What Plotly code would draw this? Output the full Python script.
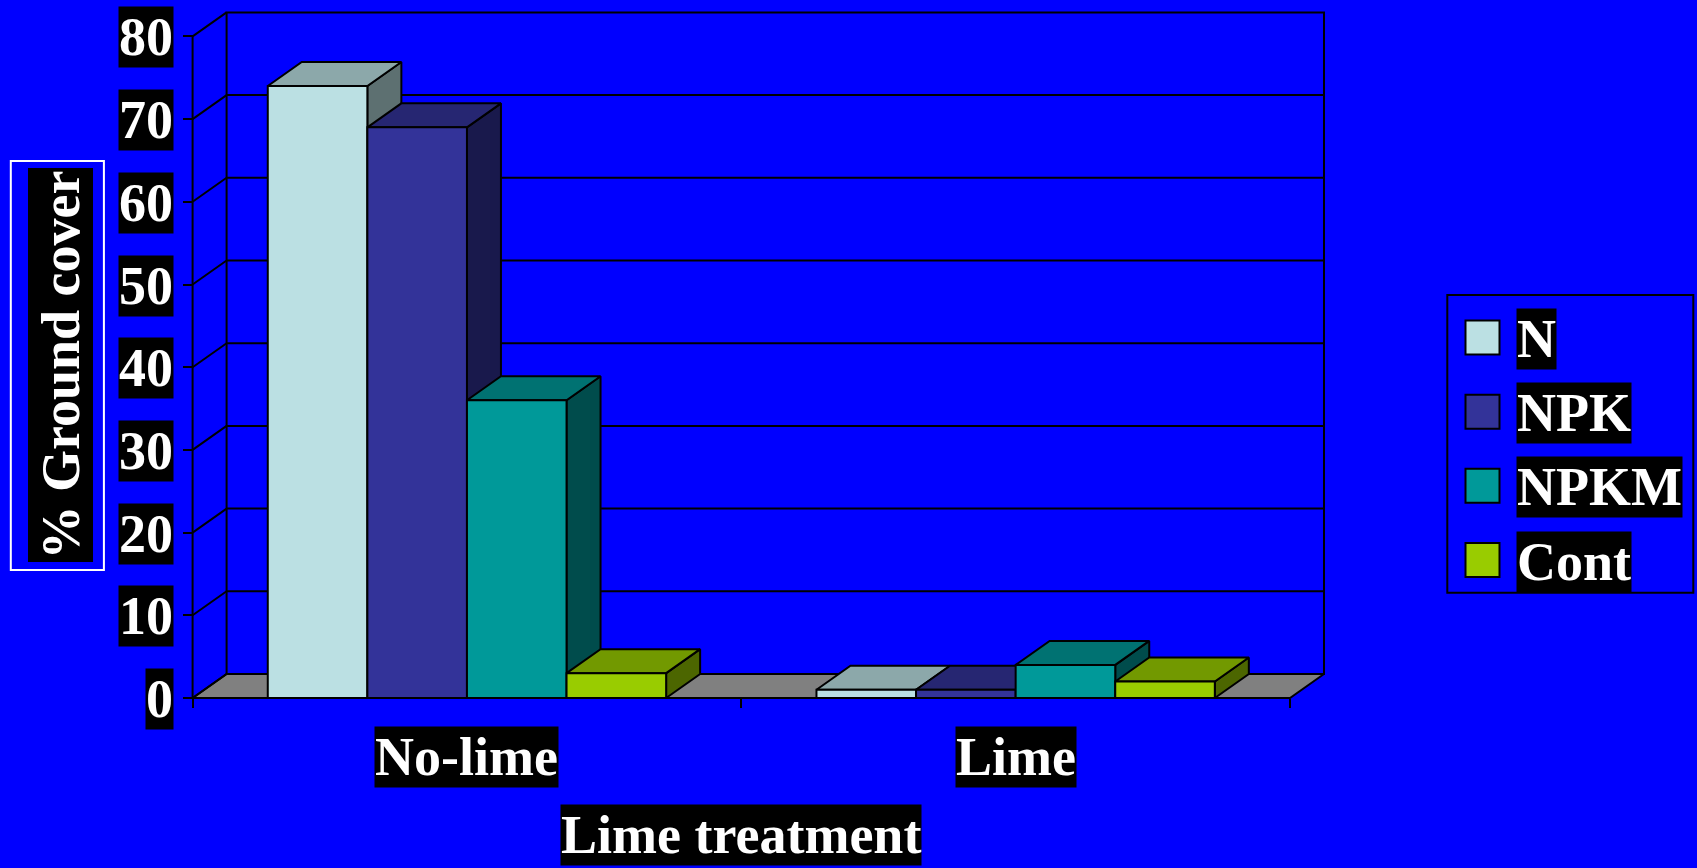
import plotly.graph_objects as go

# ---- data -------------------------------------------------------------
categories = ["No-lime", "Lime"]
series_names = ["N", "NPK", "NPKM", "Cont"]
n_values = [74, 1]
npk_values = [69, 1]
npkm_values = [36, 4]
cont_values = [3, 2]
y_ticks = [0, 10, 20, 30, 40, 50, 60, 70, 80]
y_title = "% Ground cover"
x_title = "Lime treatment"

series_values = [n_values, npk_values, npkm_values, cont_values]
front_colors = ["#BBE0E3", "#333399", "#009999", "#99CC00"]


def shade(hex_color, k):
    r, g, b = (int(hex_color[i:i + 2], 16) for i in (1, 3, 5))
    return "#%02X%02X%02X" % (int(r * k), int(g * k), int(b * k))


top_colors = [shade(c, 0.75) for c in front_colors]
side_colors = [shade(c, 0.5) for c in front_colors]

# ---- page / projection geometry ----------------------------------------
W, H = 1697, 868
AXIS_PX = 192.6      # pixel column of the front value axis
CAT_PX = 548.7       # pixel width of one category
ZERO_PX = 698.0      # pixel row of value 0 on the front plane
UNIT_PX = 8.27       # pixels per value unit
DEPTH_X_PX, DEPTH_Y_PX = 34.0, 24.0

DX = DEPTH_X_PX / CAT_PX          # depth offset in category units
DY = DEPTH_Y_PX / UNIT_PX         # depth offset in value units
BAR_W = 0.1815
GROUP_OFF = (1 - BAR_W * len(series_names)) / 2
YMAX = y_ticks[-1]
NCAT = len(categories)

x_range = [-AXIS_PX / CAT_PX, (W - AXIS_PX) / CAT_PX]
y_range = [(ZERO_PX - H) / UNIT_PX, ZERO_PX / UNIT_PX]

FONT = "Liberation Serif, Times New Roman, serif"
FS = 54
BG = "#0000FF"

fig = go.Figure()


def add_poly(xs, ys, fill, width=2, line_color="black"):
    fig.add_trace(go.Scatter(
        x=list(xs) + [xs[0]], y=list(ys) + [ys[0]], mode="lines",
        fill="toself", fillcolor=fill,
        line=dict(color=line_color, width=width),
        hoverinfo="skip", showlegend=False))


def add_lines(xs, ys, width=2):
    fig.add_trace(go.Scatter(
        x=xs, y=ys, mode="lines", line=dict(color="black", width=width),
        hoverinfo="skip", showlegend=False))


# back wall with gridlines
add_poly([DX, NCAT + DX, NCAT + DX, DX], [DY, DY, YMAX + DY, YMAX + DY], BG)
gx, gy = [], []
for v in y_ticks[1:-1]:
    gx += [DX, NCAT + DX, None]
    gy += [v + DY, v + DY, None]
add_lines(gx, gy)

# floor
add_poly([0, NCAT, NCAT + DX, DX], [0, 0, DY, DY], "#808080")

# left wall: front axis and depth diagonals
lx, ly = [0, 0, None], [0, YMAX, None]
for v in y_ticks:
    lx += [0, DX, None]
    ly += [v, v + DY, None]
add_lines(lx, ly)

# 3-D columns, drawn left to right so nearer faces cover farther ones
for c in range(NCAT):
    for i, vals in enumerate(series_values):
        v = vals[c]
        x0 = c + GROUP_OFF + i * BAR_W
        x1 = x0 + BAR_W
        add_poly([x1, x1 + DX, x1 + DX, x1], [0, DY, v + DY, v], side_colors[i])
        add_poly([x0, x1, x1 + DX, x0 + DX], [v, v, v + DY, v + DY], top_colors[i])
        add_poly([x0, x1, x1, x0], [0, 0, v, v], front_colors[i])

# ---- text ---------------------------------------------------------------
annotations = []
label_font = dict(family=FONT, size=FS, color="white")

for v in y_ticks:
    annotations.append(dict(
        x=0, y=v, xref="x", yref="y", xanchor="right", yanchor="middle",
        xshift=-19, yshift=-1, text="<b>%d</b>" % v, showarrow=False,
        font=label_font, bgcolor="black", borderpad=0))

for c, name in enumerate(categories):
    annotations.append(dict(
        x=c + 0.5, y=0, xref="x", yref="y", xanchor="center", yanchor="middle",
        yshift=-59, text="<b>%s</b>" % name, showarrow=False,
        font=label_font, bgcolor="black", borderpad=0))

annotations.append(dict(
    x=NCAT / 2, y=0, xref="x", yref="y", xanchor="center", yanchor="middle",
    yshift=-137, text="<b>%s</b>" % x_title, showarrow=False,
    font=label_font, bgcolor="black", borderpad=0))

annotations.append(dict(
    x=60 / W, y=1 - 365.5 / H, xref="paper", yref="paper",
    xanchor="center", yanchor="middle", textangle=-90,
    text="<b>%s</b>" % y_title, showarrow=False,
    font=label_font, bgcolor="black", borderpad=2))

shapes = [dict(type="rect", xref="paper", yref="paper",
               x0=10.8 / W, x1=103.9 / W, y0=1 - 570 / H, y1=1 - 161 / H,
               line=dict(color="white", width=2))]

# legend box
LEG_L, LEG_R, LEG_T, LEG_B = 1447.3, 1693.3, 295.0, 592.7
shapes.append(dict(type="rect", xref="paper", yref="paper",
                   x0=LEG_L / W, x1=LEG_R / W, y0=1 - LEG_B / H, y1=1 - LEG_T / H,
                   line=dict(color="black", width=2)))
row_centers = [337.5, 411.7, 485.7, 560.0]
SW = 34
for name, col, yc in zip(series_names, front_colors, row_centers):
    shapes.append(dict(type="rect", xref="paper", yref="paper",
                       x0=1465.5 / W, x1=(1465.5 + SW) / W,
                       y0=1 - (yc + SW / 2) / H, y1=1 - (yc - SW / 2) / H,
                       fillcolor=col, line=dict(color="black", width=2)))
    annotations.append(dict(
        x=1515.7 / W, y=1 - (yc + 1.5) / H, xref="paper", yref="paper",
        xanchor="left", yanchor="middle", text="<b>%s</b>" % name,
        showarrow=False, font=label_font, bgcolor="black", borderpad=0))

fig.update_layout(
    width=W, height=H, margin=dict(l=0, r=0, t=0, b=0),
    paper_bgcolor=BG, plot_bgcolor=BG, showlegend=False,
    annotations=annotations, shapes=shapes,
    xaxis=dict(range=x_range, anchor="free", position=1 - ZERO_PX / H,
               tickvals=[0, 1, 2], ticks="outside", ticklen=9, tickwidth=2,
               tickcolor="black", showticklabels=False, showgrid=False,
               zeroline=False, showline=False, fixedrange=True),
    yaxis=dict(range=y_range, anchor="free", position=AXIS_PX / W,
               tickvals=y_ticks, ticks="outside", ticklen=10, tickwidth=2,
               tickcolor="black", showticklabels=False, showgrid=False,
               zeroline=False, showline=False, fixedrange=True),
)

fig.write_html("out.html")
